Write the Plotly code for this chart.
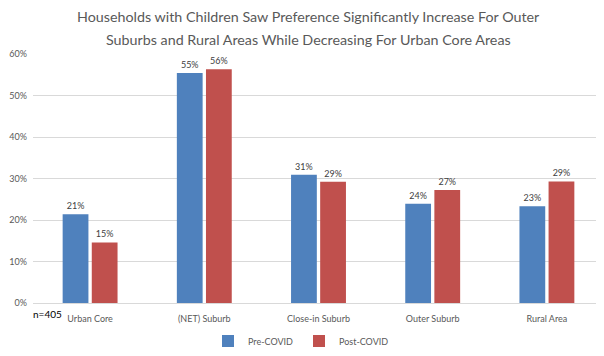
import plotly.graph_objects as go

categories = ["Urban Core", "(NET) Suburb", "Close-in Suburb", "Outer Suburb", "Rural Area"]
pre_covid = [21.4, 55.4, 30.9, 23.9, 23.3]
post_covid = [14.6, 56.3, 29.2, 27.2, 29.3]
y_ticks = [0, 10, 20, 30, 40, 50, 60]
y_tick_labels = [f"{v}%" for v in y_ticks]

title_lines = ["Households with Children Saw Preference Significantly Increase For Outer",
               "Suburbs and Rural Areas While Decreasing For Urban Core Areas"]

# page body has an 8px margin; figure coords are offset accordingly
PLOT_LEFT, PLOT_RIGHT = 25, 596
PLOT_TOP, PLOT_BOTTOM = 46, 295
PH = PLOT_BOTTOM - PLOT_TOP
PW = PLOT_RIGHT - PLOT_LEFT

fig = go.Figure()
fig.add_trace(go.Bar(name="Pre-COVID", x=categories, y=pre_covid,
                     marker=dict(color="#4F81BD", line=dict(width=0)),
                     texttemplate="%{y:.0f}%", textposition="outside",
                     textfont=dict(size=9, color="#404040"), cliponaxis=False))
fig.add_trace(go.Bar(name="Post-COVID", x=categories, y=post_covid,
                     marker=dict(color="#C0504D", line=dict(width=0)),
                     texttemplate="%{y:.0f}%", textposition="outside",
                     textfont=dict(size=9, color="#404040"), cliponaxis=False))

annotations = []
for line, ypix in zip(title_lines, [8.5, 32]):
    annotations.append(dict(text=line, x=(300.5 - PLOT_LEFT) / PW, xref="paper", xanchor="center",
                            y=(PLOT_BOTTOM - ypix) / PH, yref="paper", yanchor="middle",
                            showarrow=False, font=dict(size=14.3, color="#595959")))
annotations.append(dict(text="n=405", x=-0.003, xref="paper", y=-0.012, yref="paper",
                        xanchor="left", yanchor="top", showarrow=False,
                        font=dict(size=10, color="#000000")))

fig.update_layout(
    width=604, height=356,
    margin=dict(l=PLOT_LEFT, r=604 - PLOT_RIGHT, t=PLOT_TOP, b=356 - PLOT_BOTTOM, autoexpand=False),
    paper_bgcolor="white", plot_bgcolor="white",
    font=dict(family="Lato, Open Sans, sans-serif", color="#595959"),
    barmode="group", bargap=0.49, bargroupgap=0.115,
    legend=dict(orientation="h", x=(291 - PLOT_LEFT) / PW, xanchor="center",
                y=-(341 - 8 - PLOT_BOTTOM) / PH, yanchor="middle",
                bgcolor="rgba(0,0,0,0)", font=dict(size=9, color="#595959"),
                itemwidth=30, entrywidth=46, entrywidthmode="pixels"),
    xaxis=dict(showgrid=False, showline=True, linecolor="#d9d9d9", linewidth=1,
               tickfont=dict(size=9, color="#595959"), ticks="", ticklabelstandoff=7),
    yaxis=dict(range=[0, 60], tickvals=y_ticks, ticktext=y_tick_labels,
               showgrid=True, gridcolor="#d9d9d9", gridwidth=1,
               zeroline=False, tickfont=dict(size=9, color="#595959"),
               ticks="", ticklabelstandoff=5),
    showlegend=True,
    annotations=annotations,
)

fig.write_html("out.html")
